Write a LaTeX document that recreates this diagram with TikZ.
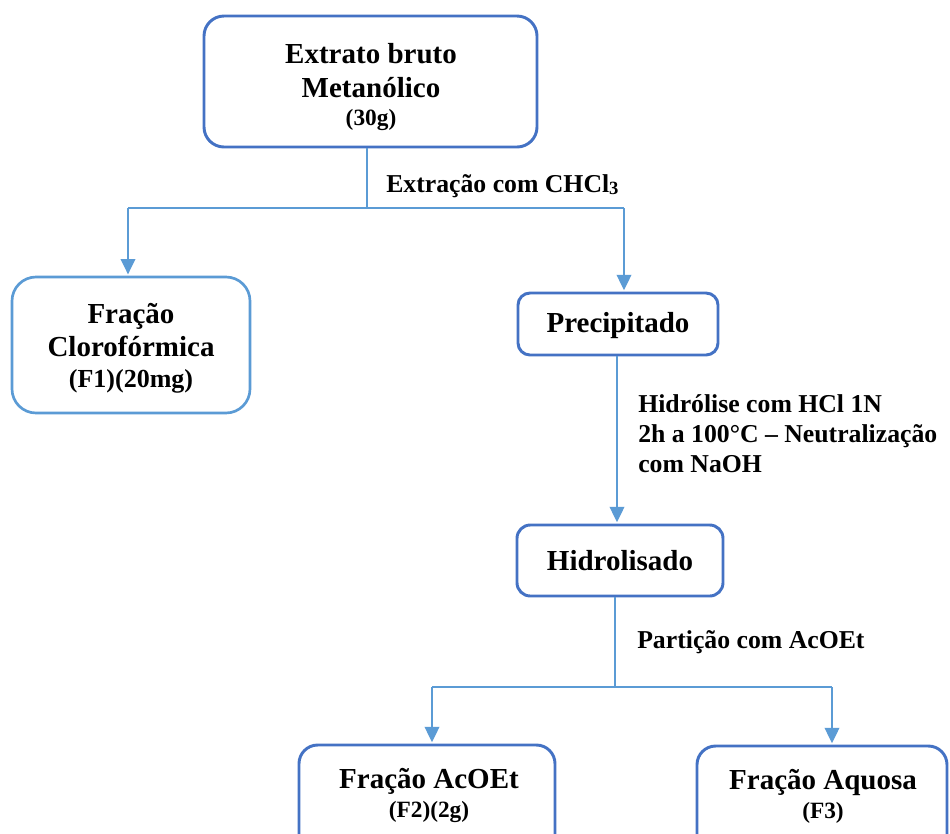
\documentclass[tikz,border=0pt]{standalone}
\usepackage{fontspec}
\setmainfont{Liberation Serif}
\usetikzlibrary{arrows.meta,calc}
\definecolor{boxblue}{HTML}{4472C4}
\definecolor{lightblue}{HTML}{5B9BD5}
\definecolor{lineblue}{HTML}{5B9BD5}
\begin{document}
\begin{tikzpicture}[x=0.75pt,y=-0.75pt,
  box/.style={draw=boxblue,line width=2.2pt,fill=white,inner sep=0pt},
  lbox/.style={draw=lightblue,line width=2pt,fill=white,inner sep=0pt},
  big/.style={font=\bfseries\fontsize{21.75}{26}\selectfont,inner sep=0pt,anchor=base},
  mid/.style={font=\bfseries\fontsize{19.5}{23}\selectfont,inner sep=0pt,anchor=base},
  small/.style={font=\bfseries\fontsize{17.5}{21}\selectfont,inner sep=0pt,anchor=base},
  lab/.style={font=\bfseries\fontsize{19.3}{23}\selectfont,inner sep=0pt,anchor=base west},
  conn/.style={draw=lineblue,line width=1.1pt},
  arr/.style={conn,-{Triangle[width=11pt,length=11.5pt]},shorten >=1pt}]
\useasboundingbox (0,0) rectangle (950,833);
\clip (0,0) rectangle (950,833);
\fill[white] (0,0) rectangle (950,833);

% boxes
\node[box,rounded corners=15pt,minimum width=249.75pt,minimum height=98.25pt] (top) at (370.5,81.5) {};
\node[lbox,rounded corners=18pt,minimum width=178.5pt,minimum height=102pt] (clo) at (131,345) {};
\node[box,rounded corners=9pt,minimum width=150pt,minimum height=46.5pt] (prec) at (618,324) {};
\node[box,rounded corners=10pt,minimum width=154.5pt,minimum height=53.25pt] (hid) at (620,560.5) {};
\node[box,rounded corners=14pt,minimum width=192pt,minimum height=90pt] (acoet) at (427,805) {};
\node[box,rounded corners=14pt,minimum width=187.5pt,minimum height=90pt] (aq) at (822,806) {};

% box texts
\node[big] (topA) at (371,63) {Extrato bruto};
\node[big] (topB) at (371,97) {Metanólico};
\node[small] (topC) at (371,125) {(30g)};
\node[big] (cloA) at (131,323) {Fração};
\node[big] (cloB) at (131,356) {Clorofórmica};
\node[mid] (cloC) at (131,387) {(F1)(20mg)};
\node[big] (precA) at (618,332) {Precipitado};
\node[big] (hidA) at (620,570) {Hidrolisado};
\node[big] (acA) at (429,788) {Fração AcOEt};
\node[small] (acB) at (429,817) {(F2)(2g)};
\node[big] (aqA) at (823,789) {Fração Aquosa};
\node[small] (aqB) at (823,818) {(F3)};

% labels
\node[lab] (l1) at (386,192) {Extração com CHCl\raisebox{-1.5pt}{\fontsize{14}{14}\selectfont 3}};
\node[lab] (l2a) at (638,412) {Hidrólise com HCl 1N};
\node[lab] (l2b) at (638,442) {2h a 100°C – Neutralização};
\node[lab] (l2c) at (638,472) {com NaOH};
\node[lab] (l3) at (637,648) {Partição com AcOEt};

% connectors
\coordinate (j1) at (367,208);
\coordinate (ja) at (128,208);
\coordinate (jb) at (624,208);
\draw[conn] (top.south -| j1) -- (j1);
\draw[conn] (ja) -- (jb);
\draw[arr] (ja) -- (clo.north -| ja);
\draw[arr] (jb) -- (prec.north -| jb);
\coordinate (k1) at (617,0);
\draw[arr] (prec.south -| k1) -- (hid.north -| k1);
\coordinate (j2) at (615,687);
\coordinate (jc) at (432,687);
\coordinate (jd) at (832,687);
\draw[conn] (hid.south -| j2) -- (j2);
\draw[conn] (jc) -- (jd);
\draw[arr] (jc) -- (acoet.north -| jc);
\draw[arr] (jd) -- (aq.north -| jd);
\end{tikzpicture}
\end{document}
